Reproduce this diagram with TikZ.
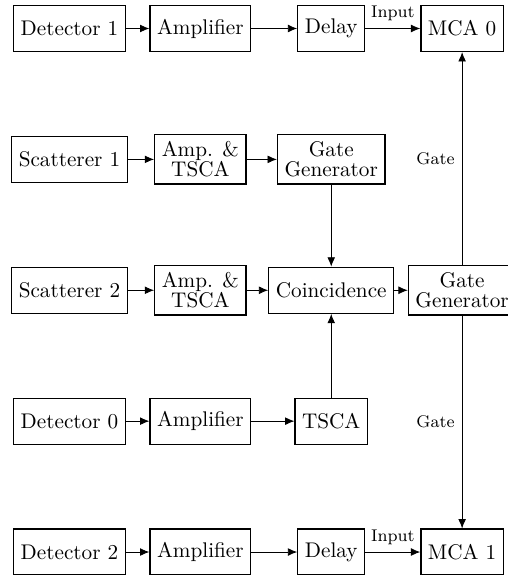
\documentclass[tikz,border=0pt]{standalone}
\usepackage{amsmath,amssymb}
\usepackage{xcolor}
\usepackage{tikz}
\usetikzlibrary{shapes,arrows,arrows.meta,positioning}

\tikzset{
  block/.style={draw, semithick, minimum height=21.7pt, align=center},
  lbl/.style={font=\footnotesize}
}

\begin{document}
\begin{tikzpicture}[>={Latex[length=4.4pt,width=3.7pt]}]
\useasboundingbox (-1.152,0.4725) rectangle (7.270,-9.061);

% Detector 1 chain
\node[block] (det1) at (0,0) {Detector 1};
\node[block] (amp1) at (2.17,0) {Amplifier};
\node[block] (delay1) at (4.34,0) {Delay};
\node[block] (mca0) at (6.51,0) {MCA 0};

% Scatterer 1 chain
\node[block] (scat1) at (0,-2.17) {Scatterer 1};
\node[block] (tsca1) at (2.17,-2.17) {Amp. \&\\[-2.7pt]TSCA};
\node[block] (gate1) at (4.34,-2.17) {Gate\\[-2.7pt]Generator};

% Scatterer 2 chain
\node[block] (scat2) at (0,-4.34) {Scatterer 2};
\node[block] (tsca2) at (2.17,-4.34) {Amp. \&\\[-2.7pt]TSCA};
\node[block] (coinc) at (4.34,-4.34) {Coincidence};
\node[block] (gate2) at (6.51,-4.34) {Gate\\[-2.7pt]Generator};

% Detector 0 chain
\node[block] (det0) at (0,-6.51) {Detector 0};
\node[block] (amp0) at (2.17,-6.51) {Amplifier};
\node[block] (tsca0) at (4.34,-6.51) {TSCA};

% Detector 2 chain
\node[block] (det2) at (0,-8.68) {Detector 2};
\node[block] (amp2) at (2.17,-8.68) {Amplifier};
\node[block] (delay2) at (4.34,-8.68) {Delay};
\node[block] (mca1) at (6.51,-8.68) {MCA 1};

% Signal paths
\draw[->] (det1) -- (amp1);
\draw[->] (amp1) -- (delay1);
\draw[->] (delay1) -- node[lbl,above] {Input} (mca0);
\draw[->] (scat1) -- (tsca1);
\draw[->] (tsca1) -- (gate1);
\draw[->] (gate1) -- (coinc);
\draw[->] (scat2) -- (tsca2);
\draw[->] (tsca2) -- (coinc);
\draw[->] (coinc) -- (gate2);
\draw[->] (det0) -- (amp0);
\draw[->] (amp0) -- (tsca0);
\draw[->] (tsca0) -- (coinc);
\draw[->] (det2) -- (amp2);
\draw[->] (amp2) -- (delay2);
\draw[->] (delay2) -- node[lbl,above] {Input} (mca1);

% Gate lines
\draw[->] (gate2) -- node[lbl,left] {Gate} (mca0);
\draw[->] (gate2) -- node[lbl,left] {Gate} (mca1);
\end{tikzpicture}
\end{document}
